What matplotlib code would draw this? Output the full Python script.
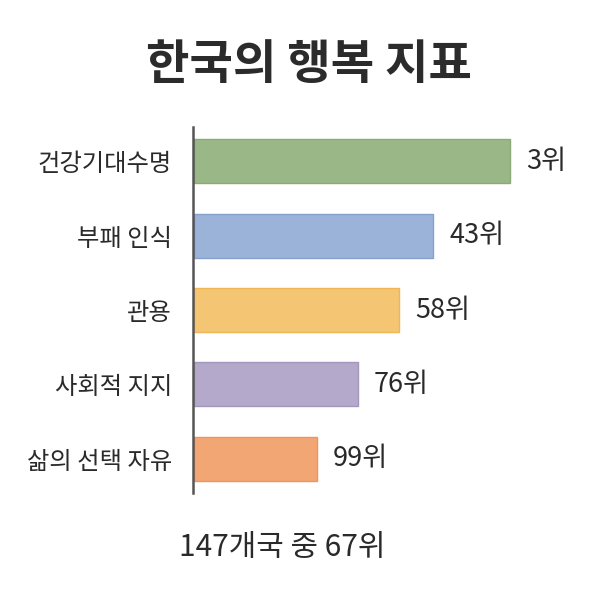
import matplotlib
matplotlib.use("Agg")
import matplotlib.pyplot as plt

plt.rcParams['font.family'] = ['Noto Sans CJK KR', 'DejaVu Sans']

title = "한국의 행복 지표"
footer = "147개국 중 67위"
categories = ["건강기대수명", "부패 인식", "관용", "사회적 지지", "삶의 선택 자유"]
ranks = [3, 43, 58, 76, 99]
scores = [316, 239, 205, 164, 123]  # relative bar lengths
colors = ["#9AB887", "#9BB3D8", "#F4C573", "#B4A9CA", "#F2A673"]
edges = ["#8AAA76", "#86A0CC", "#F0B655", "#A497BD", "#EE955C"]
text_color = "#2A2A2A"

W = H = 607
fig = plt.figure(figsize=(W / 100, H / 100), dpi=100)
fig.patch.set_facecolor("white")

left, right = 193 / W, 580 / W
top, bottom = 1 - 127 / H, 1 - 493 / H
ax = fig.add_axes([left, bottom, right - left, top - bottom])

y = list(range(len(categories)))
ax.barh(y, scores, height=0.59, color=colors, edgecolor=edges, linewidth=1.0, left=1)
ax.set_xlim(0, (580 - 193))
ax.set_ylim(len(categories) - 0.54, -0.46)

for yi, s, r in zip(y, scores, ranks):
    ax.text(s + 17, yi, f"{r}위", va="center", ha="left", fontsize=19.5,
            fontweight="medium", color=text_color)

ax.set_yticks(y)
ax.set_yticklabels(categories, fontsize=17.5, fontweight="medium", color=text_color)
ax.tick_params(axis="y", length=0, pad=15)
ax.set_xticks([])
for sp in ["top", "right", "bottom"]:
    ax.spines[sp].set_visible(False)
ax.spines["left"].set_color("#555555")
ax.spines["left"].set_linewidth(1.8)

fig.text(309 / W, 1 - 65 / H, title, ha="center", va="center", fontsize=34,
         fontweight="bold", color="#2B2B2B")
fig.text(282 / W, 1 - 548 / H, footer, ha="center", va="center", fontsize=21.5,
         color=text_color)

fig.savefig("out.png", dpi=100, facecolor="white")
